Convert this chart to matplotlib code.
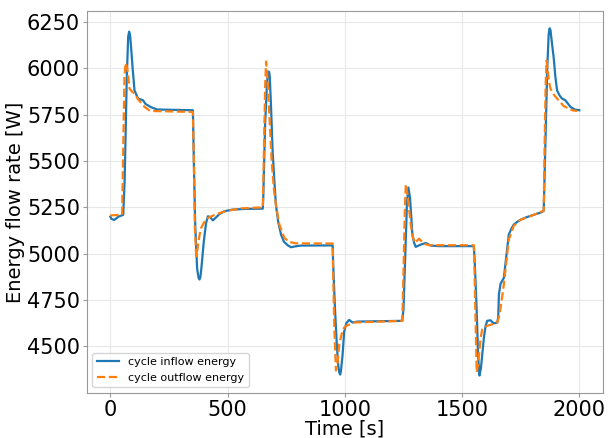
import matplotlib
matplotlib.use("Agg")
import matplotlib.pyplot as plt

# Odczytane punkty charakterystyczne (czas [s], moc [W])
t_in = [0, 4, 16, 35, 55, 61, 70, 76, 80, 84, 88, 95, 103, 118, 130, 139, 150, 174, 200, 352,
        356, 362, 370, 376, 380, 384, 388, 398, 408, 416, 425, 437, 450, 465, 486, 520, 580, 650,
        652, 660, 668, 672, 675, 678, 680, 685, 692, 700, 706, 716, 728, 740, 756, 770, 790, 813, 948,
        950, 958, 966, 972, 976, 980, 983, 990, 997, 1006, 1018, 1033, 1054, 1245,
        1250, 1258, 1265, 1271, 1278, 1288, 1295, 1302, 1312, 1323, 1345, 1366, 1400, 1550,
        1554, 1562, 1568, 1574, 1580, 1586, 1593, 1600, 1607, 1621, 1635, 1650, 1654, 1657,
        1664, 1678, 1688, 1699, 1710, 1720, 1735, 1749, 1770, 1806, 1841, 1848,
        1855, 1863, 1869, 1872, 1874, 1877, 1880, 1891, 1898, 1905, 1915, 1926, 1940, 1950, 1962, 1980, 2000]
p_in = [5200, 5189, 5182, 5200, 5210, 5400, 5950, 6170, 6198, 6180, 6120, 6000, 5881, 5837, 5832, 5828, 5808, 5790, 5778, 5774,
        5500, 5150, 4920, 4870, 4861, 4875, 4920, 5060, 5165, 5202, 5198, 5180, 5195, 5214, 5229, 5238, 5242, 5243,
        5300, 5700, 5920, 5975, 5983, 5975, 5950, 5800, 5550, 5380, 5264, 5170, 5103, 5065, 5046, 5035, 5040, 5044, 5045,
        4950, 4700, 4500, 4395, 4360, 4348, 4365, 4450, 4580, 4625, 4643, 4629, 4634, 4638,
        4700, 5000, 5280, 5357, 5300, 5103, 5060, 5037, 5043, 5049, 5058, 5044, 5041, 5041,
        4950, 4700, 4450, 4343, 4380, 4460, 4548, 4610, 4638, 4641, 4624, 4629, 4660, 4781,
        4838, 4870, 4980, 5103, 5135, 5157, 5172, 5183, 5195, 5210, 5225, 5232,
        5600, 6000, 6180, 6212, 6216, 6205, 6170, 6051, 5950, 5881, 5855, 5837, 5828, 5812, 5792, 5778, 5774]

t_out = [0, 20, 50, 54, 60, 65, 72, 82, 92, 103, 120, 146, 170, 352,
         356, 360, 366, 372, 380, 387, 400, 416, 440, 465, 500, 560, 650,
         654, 660, 664, 670, 678, 688, 698, 706, 720, 742, 763, 790, 948,
         950, 955, 962, 968, 976, 986, 997, 1008, 1018, 1040, 1245,
         1250, 1256, 1260, 1266, 1273, 1281, 1290, 1299, 1316, 1338, 1360, 1550,
         1553, 1558, 1562, 1568, 1574, 1579, 1586, 1596, 1607, 1630, 1650, 1657, 1664,
         1671, 1678, 1688, 1699, 1720, 1749, 1806, 1848,
         1852, 1856, 1860, 1866, 1870, 1877, 1890, 1905, 1933, 1969, 1990]
p_out = [5207, 5208, 5210, 5500, 5950, 6030, 6000, 5890, 5875, 5863, 5830, 5792, 5770, 5765,
         5500, 5150, 4987, 5030, 5100, 5139, 5170, 5193, 5207, 5219, 5232, 5245, 5250,
         5500, 5900, 6037, 5950, 5747, 5497, 5340, 5264, 5160, 5085, 5064, 5056, 5055,
         4900, 4600, 4370, 4400, 4513, 4565, 4602, 4612, 4617, 4629, 4638,
         4900, 5250, 5375, 5330, 5250, 5157, 5090, 5058, 5081, 5053, 5046, 5046,
         4900, 4600, 4361, 4400, 4480, 4548, 4593, 4605, 4611, 4620, 4629, 4660, 4709,
         4770, 4835, 4950, 5076, 5150, 5183, 5210, 5232,
         5600, 5900, 6042, 5980, 5930, 5890, 5860, 5837, 5797, 5774, 5770]

fig = plt.figure(figsize=(6.12, 4.38), dpi=100)
ax = fig.add_axes([0.142, 0.103, 0.843, 0.872])

ax.plot(t_in, p_in, color='tab:blue', lw=1.6, label='cycle inflow energy')
ax.plot(t_out, p_out, color='tab:orange', lw=1.6, ls='--', label='cycle outflow energy')

ax.set_xticks([0, 500, 1000, 1500, 2000])
ax.set_yticks([4500, 4750, 5000, 5250, 5500, 5750, 6000, 6250])
ax.set_xlabel('Time [s]', fontsize=14, labelpad=0)
ax.set_ylabel('Energy flow rate [W]', fontsize=14, labelpad=1)
ax.tick_params(labelsize=15, color='#999999', length=3, pad=2)
ax.grid(True, color='#e8e8e8', lw=0.8)
for s in ax.spines.values():
    s.set_color('#999999')

ax.legend(loc='lower left', fontsize=8)

fig.savefig('out.png', dpi=100)
